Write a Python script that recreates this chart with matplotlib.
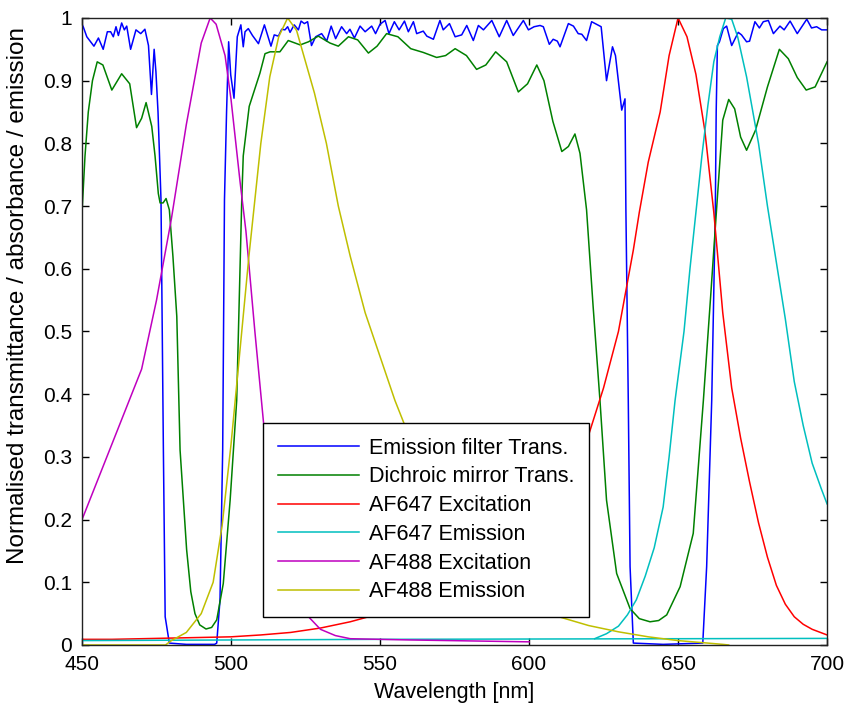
import matplotlib
matplotlib.use("Agg")
import matplotlib.pyplot as plt

plt.rcParams['font.family'] = ['Liberation Sans', 'DejaVu Sans']

# ---- Emission filter transmittance (blue) ----
ef_wl = [450, 450.4, 451.6, 454, 455.5, 457.1, 458.5, 459.6, 460.5, 461.4, 462.2, 463.3, 464.2, 465, 466.3,
         468.1, 469.7, 471.1, 472.3, 473.3, 474.2, 474.8, 475.5, 476.5, 477.3, 477.9, 479.3, 485, 494.5,
         495.2, 496.3, 497.2, 497.8, 498.5, 499.2, 499.9, 501, 502.1, 503.3, 504.1, 504.7, 505.8, 507.2,
         509.2, 511.2, 513.4, 514.5, 515.9, 517, 518.1, 519, 519.8, 521.2, 522.6, 523.5, 524.6, 525.7,
         527, 528.4, 530.4, 532.1, 533.6, 535.1, 537.1, 538.8, 539.9, 541.4, 543.3, 545, 547.2, 548.5,
         550, 551.7, 553, 554.8, 556.4, 558.2, 559.5, 561.2, 562.3, 564.5, 565.7, 567.9, 570.1, 571.2,
         573.3, 575.2, 577.4, 579.1, 581.3, 583, 584.7, 587.5, 590, 592.5, 594.7, 598.1, 599.8, 601.7,
         603.7, 604.8, 606.8, 608.1, 609.5, 610.4, 613.2, 614.9, 616.5, 617.7, 619.3, 621, 622.6, 624.2,
         626, 628, 629, 631.1, 632.2, 632.5, 633.3, 633.9, 635, 645, 658.3, 659.6, 661.3, 662.5, 662.8,
         663.2, 663.9, 665.2, 666.3, 668, 670.2, 671.3, 673, 674, 675.8, 677.3, 678.6, 680.3, 682, 684.2,
         685.6, 687.6, 690, 693.2, 694.8, 696.5, 698.2, 700]
ef_val = [0.99, 0.986, 0.970, 0.955, 0.968, 0.950, 0.978, 0.978, 0.970, 0.986, 0.972, 0.992, 0.981, 0.987, 0.950,
          0.981, 0.975, 0.982, 0.956, 0.878, 0.950, 0.914, 0.850, 0.710, 0.311, 0.045, 0.003, 0.001, 0.001,
          0.003, 0.072, 0.311, 0.710, 0.850, 0.962, 0.909, 0.872, 0.970, 0.989, 0.954, 0.978, 0.983, 0.972,
          0.959, 0.989, 0.955, 0.973, 0.971, 0.982, 0.981, 0.986, 0.977, 0.989, 0.981, 0.995, 0.991, 0.994,
          0.956, 0.970, 0.975, 0.963, 0.987, 0.967, 0.986, 0.975, 0.982, 0.968, 0.987, 0.978, 0.987, 0.975,
          0.990, 0.996, 0.975, 0.994, 0.981, 0.995, 0.978, 0.994, 0.975, 0.979, 0.971, 0.966, 0.996, 0.981,
          0.991, 0.970, 0.973, 0.988, 0.964, 0.988, 0.981, 0.996, 0.970, 0.996, 0.972, 0.996, 0.981, 0.986,
          0.988, 0.986, 0.958, 0.966, 0.963, 0.954, 0.991, 0.987, 0.975, 0.974, 0.964, 0.994, 0.990, 0.986,
          0.900, 0.954, 0.940, 0.853, 0.871, 0.694, 0.390, 0.125, 0.003, 0.001, 0.003, 0.125, 0.390, 0.690, 0.850,
          0.956, 0.962, 0.983, 0.987, 0.956, 0.977, 0.973, 0.962, 0.963, 0.994, 0.984, 0.994, 0.996, 0.975, 0.987,
          0.981, 0.995, 0.975, 0.998, 0.984, 0.986, 0.981, 0.981]

# ---- Dichroic mirror transmittance (green) ----
dm_wl = [450, 451, 452.1, 453.5, 455.1, 457, 460, 463.3, 466, 468.3, 470, 471.5, 473.4, 474.5, 475.6, 476.2,
         477.2, 478.2, 479.3, 480.5, 481.8, 482.9, 485.1, 486.5, 487.9, 489.5, 491.6, 493.5, 495.2, 497.4,
         499.7, 501.9, 503.6, 504.1, 506.1, 509.7, 511.4, 513.1, 516.4, 519.2, 523.2, 526, 529.3, 533.2,
         536, 539.4, 542.5, 546.1, 549, 552.2, 556, 560.3, 564.5, 569, 572, 575.2, 579, 582.4, 585.5, 588.8,
         592.5, 596.4, 599.5, 602.6, 605, 608, 611, 613.2, 615.4, 617.1, 619.3, 621.5, 623.8, 626, 629.4,
         633.9, 637, 640.6, 643.5, 646.2, 650.7, 655.1, 658.5, 661, 663, 665, 667, 669, 671, 673, 676,
         680, 684, 687, 690, 693, 696, 700]
dm_val = [0.69, 0.78, 0.85, 0.90, 0.93, 0.925, 0.885, 0.911, 0.895, 0.825, 0.84, 0.865, 0.827, 0.78, 0.72, 0.705,
          0.705, 0.712, 0.694, 0.62, 0.524, 0.311, 0.152, 0.085, 0.05, 0.032, 0.0255, 0.028, 0.04, 0.098,
          0.231, 0.39, 0.71, 0.78, 0.859, 0.912, 0.943, 0.946, 0.946, 0.964, 0.957, 0.962, 0.971, 0.960,
          0.955, 0.97, 0.965, 0.944, 0.955, 0.975, 0.97, 0.951, 0.945, 0.937, 0.94, 0.951, 0.94, 0.918, 0.925, 0.946,
          0.93, 0.882, 0.895, 0.925, 0.90, 0.835, 0.787, 0.795, 0.815, 0.784, 0.694, 0.54, 0.39, 0.231, 0.114,
          0.058, 0.042, 0.037, 0.039, 0.048, 0.093, 0.178, 0.39, 0.56, 0.70, 0.837, 0.87, 0.855, 0.81, 0.789, 0.821,
          0.89, 0.95, 0.935, 0.905, 0.885, 0.89, 0.93]

# ---- AF647 excitation (red) ----
ex647_wl = [450, 460, 470, 480, 490, 500, 510, 520, 530, 540, 550, 560, 570, 580, 590, 600, 605, 610, 615,
            620, 625, 630, 635, 637, 640, 644, 647, 650, 653, 656, 659, 662, 665, 668, 671, 674, 677, 680,
            683, 686, 689, 692, 695, 700]
ex647_val = [0.009, 0.009, 0.010, 0.011, 0.012, 0.013, 0.016, 0.020, 0.027, 0.037, 0.05, 0.065, 0.08, 0.10,
             0.13, 0.17, 0.20, 0.24, 0.285, 0.335, 0.41, 0.50, 0.63, 0.69, 0.77, 0.85, 0.94, 1.0, 0.97, 0.91,
             0.82, 0.69, 0.53, 0.41, 0.33, 0.26, 0.195, 0.14, 0.095, 0.065, 0.045, 0.033, 0.025, 0.016]

# ---- AF647 emission (cyan) ----
em647_base_wl = [450, 500, 550, 600, 650, 700]
em647_base_val = [0.007, 0.008, 0.009, 0.0095, 0.010, 0.0105]
em647_wl = [622, 626, 630, 633, 636, 639, 642, 645, 647, 649, 652, 654, 656, 658, 660, 662, 664, 666, 668,
            670, 673, 677, 680, 683, 686, 689, 692, 695, 698, 700]
em647_val = [0.01, 0.018, 0.03, 0.048, 0.072, 0.11, 0.155, 0.22, 0.30, 0.39, 0.50, 0.60, 0.69, 0.78, 0.86,
             0.93, 0.97, 1.0, 0.998, 0.97, 0.906, 0.80, 0.70, 0.61, 0.52, 0.42, 0.35, 0.29, 0.25, 0.225]

# ---- AF488 excitation (magenta) ----
ex488_wl = [450, 455, 460, 465, 470, 475, 480, 485, 490, 493, 495, 498, 500, 503, 505, 508, 511, 514, 517,
            520, 523, 526, 530, 535, 540, 560, 600]
ex488_val = [0.20, 0.26, 0.32, 0.38, 0.44, 0.55, 0.68, 0.83, 0.96, 1.0, 0.99, 0.94, 0.87, 0.74, 0.66, 0.50,
             0.35, 0.24, 0.16, 0.11, 0.07, 0.045, 0.025, 0.015, 0.01, 0.008, 0.005]

# ---- AF488 emission (yellow) ----
em488_wl = [450, 478, 480, 485, 490, 494, 497, 500, 503, 506, 508, 510, 513, 516, 519, 522, 525, 528, 532,
            536, 540, 545, 550, 555, 560, 565, 570, 575, 580, 585, 590, 595, 600, 605, 610, 615, 620, 625,
            630, 635, 640, 645, 650, 655, 660, 665, 667]
em488_val = [0.0, 0.0, 0.007, 0.02, 0.05, 0.10, 0.19, 0.32, 0.47, 0.62, 0.71, 0.80, 0.906, 0.97, 1.0, 0.98,
             0.93, 0.88, 0.80, 0.70, 0.62, 0.53, 0.46, 0.39, 0.33, 0.27, 0.22, 0.18, 0.145, 0.115, 0.09, 0.07,
             0.058, 0.05, 0.045, 0.038, 0.031, 0.026, 0.021, 0.017, 0.013, 0.01, 0.007, 0.005, 0.003, 0.001, 0.0]

labels = ["Emission filter Trans.", "Dichroic mirror Trans.", "AF647 Excitation",
          "AF647 Emission", "AF488 Excitation", "AF488 Emission"]
x_ticks = [450, 500, 550, 600, 650, 700]
y_ticks = [0, 0.1, 0.2, 0.3, 0.4, 0.5, 0.6, 0.7, 0.8, 0.9, 1]
y_ticklabels = ["0", "0.1", "0.2", "0.3", "0.4", "0.5", "0.6", "0.7", "0.8", "0.9", "1"]

BLUE, GREEN, RED, CYAN, MAG, YEL = "#0000ff", "#008000", "#ff0000", "#00bfbf", "#bf00bf", "#bfbf00"

fig = plt.figure(figsize=(8.5, 7.18), dpi=100)
ax = fig.add_axes([0.0965, 0.1017, 0.8765, 0.8733])
lw = 1.1
ax.plot(ef_wl, ef_val, color=BLUE, lw=lw, label=labels[0])
ax.plot(dm_wl, dm_val, color=GREEN, lw=lw, label=labels[1])
ax.plot(ex647_wl, ex647_val, color=RED, lw=lw, label=labels[2])
ax.plot(em647_wl, em647_val, color=CYAN, lw=lw, label=labels[3])
ax.plot(em647_base_wl, em647_base_val, color=CYAN, lw=lw)
ax.plot(ex488_wl, ex488_val, color=MAG, lw=lw, label=labels[4])
ax.plot(em488_wl, em488_val, color=YEL, lw=lw, label=labels[5])

ax.set_xlim(450, 700)
ax.set_ylim(0, 1)
ax.set_xticks(x_ticks)
ax.set_yticks(y_ticks)
ax.set_yticklabels(y_ticklabels)
ax.tick_params(direction="in", top=True, right=True, length=5, width=1, labelsize=15, pad=7)
for s in ax.spines.values():
    s.set_linewidth(1.0)
    s.set_color("#222222")
ax.set_xlabel("Wavelength [nm]", fontsize=15.5, labelpad=6)
ax.set_ylabel("Normalised transmittance / absorbance / emission", fontsize=17.5)
ax.yaxis.set_label_coords(-0.071, 0.557)

leg = ax.legend(loc="lower left", bbox_to_anchor=(0.243, 0.0447), fontsize=15.5, frameon=True,
                fancybox=False, edgecolor="black", framealpha=1, handlelength=3.77, handletextpad=0.45,
                labelspacing=0.36, borderpad=0.68, borderaxespad=0)
leg.get_frame().set_linewidth(1.0)

fig.savefig("out.png", dpi=100)
